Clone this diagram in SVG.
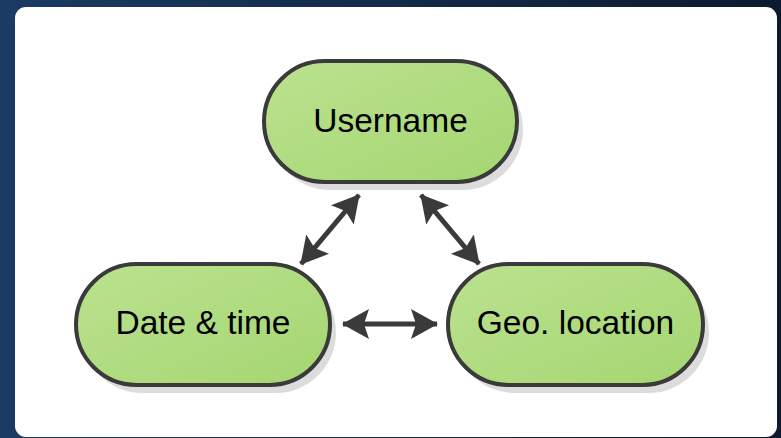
<svg xmlns="http://www.w3.org/2000/svg" width="781" height="438" viewBox="0 0 781 438">
<defs>
<linearGradient id="bg" x1="0" y1="0" x2="1" y2="0">
<stop offset="0" stop-color="#1b3b63"/>
<stop offset="1" stop-color="#0b1a2e"/>
</linearGradient>
<linearGradient id="nodefill" x1="0" y1="0" x2="1" y2="1">
<stop offset="0" stop-color="#bbe290"/>
<stop offset="1" stop-color="#a5d671"/>
</linearGradient>
<marker id="ah" viewBox="0 0 27 30" refX="26" refY="15" markerWidth="27" markerHeight="30" markerUnits="userSpaceOnUse" orient="auto-start-reverse">
<path d="M0,0 L27,15 L0,30 L5,15 Z" fill="#3a3a3a"/>
</marker>
<style>
.shadow{fill:#dcdcdc}
.node{fill:url(#nodefill);stroke:#3a3a3a;stroke-width:4}
.label{font-family:"Liberation Sans",Arial,sans-serif;font-size:33.5px;fill:#000;text-anchor:middle}
.conn{stroke:#3a3a3a;stroke-width:5;fill:none;marker-start:url(#ah);marker-end:url(#ah)}
</style>
</defs>
<rect x="0" y="0" width="781" height="438" fill="url(#bg)"/>
<rect x="15" y="7" width="762" height="430" rx="11" fill="#ffffff"/>
<g id="connectors">
<line class="conn" x1="301" y1="264" x2="359" y2="195"/>
<line class="conn" x1="421" y1="195" x2="479" y2="264"/>
<line class="conn" x1="343" y1="324" x2="437" y2="324"/>
</g>
<g id="username">
<rect class="shadow" x="270" y="69" width="253" height="121" rx="60.5"/>
<rect class="node" x="264" y="61" width="253" height="121" rx="60.5"/>
<text class="label" x="390.5" y="132">Username</text>
</g>
<g id="datetime">
<rect class="shadow" x="82" y="272" width="254" height="121" rx="60.5"/>
<rect class="node" x="76" y="264" width="254" height="121" rx="60.5"/>
<text class="label" x="203" y="334">Date &amp; time</text>
</g>
<g id="geolocation">
<rect class="shadow" x="454" y="272" width="255" height="121" rx="60.5"/>
<rect class="node" x="448" y="264" width="255" height="121" rx="60.5"/>
<text class="label" x="575.5" y="334">Geo. location</text>
</g>
</svg>
